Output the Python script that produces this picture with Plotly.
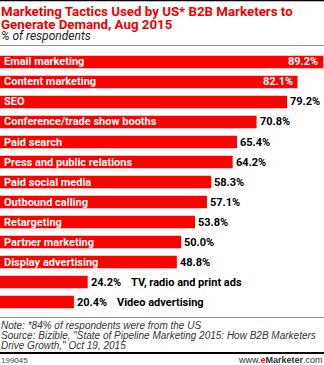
import plotly.graph_objects as go

categories = ["Email marketing", "Content marketing", "SEO", "Conference/trade show booths",
              "Paid search", "Press and public relations", "Paid social media", "Outbound calling",
              "Retargeting", "Partner marketing", "Display advertising",
              "TV, radio and print ads", "Video advertising"]
values = [89.2, 82.1, 79.2, 70.8, 65.4, 64.2, 58.3, 57.1, 53.8, 50.0, 48.8, 24.2, 20.4]
value_labels = ["89.2%", "82.1%", "79.2%", "70.8%", "65.4%", "64.2%", "58.3%", "57.1%",
                "53.8%", "50.0%", "48.8%", "24.2%", "20.4%"]
inside_value = [True, True] + [False] * 11
label_outside = [False] * 11 + [True, True]

W, H = 324, 365
BAR = "#ff0000"
TITLE_RED = "#ee0000"
FONT = "Roboto"

def py(p):
    return (H - p) / H

fig = go.Figure()
fig.add_trace(go.Bar(
    y=categories, x=values, orientation="h",
    marker=dict(color=BAR, line=dict(width=0)),
    hoverinfo="skip", showlegend=False,
))

ann = []
for cat, v, vl, ins, lo in zip(categories, values, value_labels, inside_value, label_outside):
    if ins:
        ann.append(dict(x=v, y=cat, xref="x", yref="y", text="<b>%s</b>" % vl, showarrow=False,
                        xanchor="right", yanchor="middle", xshift=-3,
                        font=dict(family=FONT, size=11, color="white")))
    else:
        ann.append(dict(x=v, y=cat, xref="x", yref="y", text="<b>%s</b>" % vl, showarrow=False,
                        xanchor="left", yanchor="middle", xshift=1,
                        font=dict(family=FONT, size=11, color="black")))
    if lo:
        ann.append(dict(x=v, y=cat, xref="x", yref="y", text="<b>%s</b>" % cat, showarrow=False,
                        xanchor="left", yanchor="middle", xshift=41,
                        font=dict(family=FONT, size=11, color="black")))
    else:
        ann.append(dict(x=0, y=cat, xref="x", yref="y", text="<b>%s</b>" % cat, showarrow=False,
                        xanchor="left", yanchor="middle", xshift=2,
                        font=dict(family=FONT, size=11, color="white")))

title_lines = ["Marketing Tactics Used by US* B2B Marketers to", "Generate Demand, Aug 2015"]
for i, t in enumerate(title_lines):
    ann.append(dict(x=0, y=py(11.8 + 12.4 * i), xref="paper", yref="paper", text="<b>%s</b>" % t,
                    showarrow=False, xanchor="left", yanchor="middle", xshift=-1,
                    font=dict(family=FONT, size=13.3, color=TITLE_RED)))
ann.append(dict(x=0, y=py(36), xref="paper", yref="paper", text="<i>% of respondents</i>",
                showarrow=False, xanchor="left", yanchor="middle", xshift=-1,
                font=dict(family=FONT, size=12, color="#222222")))

notes = ["Note: *84% of respondents were from the US",
         "Source: Bizible, \"State of Pipeline Marketing 2015: How B2B Marketers",
         "Drive Growth,\" Oct 19, 2015"]
for i, t in enumerate(notes):
    ann.append(dict(x=0, y=py(325 + 10 * i), xref="paper", yref="paper", text="<i>%s</i>" % t,
                    showarrow=False, xanchor="left", yanchor="middle", xshift=-1,
                    font=dict(family="Liberation Sans", size=10, color="#333333")))
ann.append(dict(x=0, y=py(360), xref="paper", yref="paper", text="199045",
                showarrow=False, xanchor="left", yanchor="middle", xshift=-1,
                font=dict(family="Liberation Sans", size=8, color="#444444")))
ann.append(dict(x=1, y=py(360), xref="paper", yref="paper",
                text="www.<b><span style='color:#ee0000'>e</span>Marketer</b>.com",
                showarrow=False, xanchor="right", yanchor="middle", xshift=1,
                font=dict(family="Liberation Sans", size=9, color="#333333")))

shapes = [
    dict(type="line", xref="paper", yref="paper", x0=0, x1=1, y0=py(0.5), y1=py(0.5),
         line=dict(color="black", width=1.5)),
    dict(type="line", xref="paper", yref="paper", x0=0, x1=1, y0=py(45.5), y1=py(45.5),
         line=dict(color="#999999", width=1)),
    dict(type="line", xref="paper", yref="paper", x0=0, x1=1, y0=py(317.5), y1=py(317.5),
         line=dict(color="#999999", width=1)),
    dict(type="line", xref="paper", yref="paper", x0=0, x1=1, y0=py(353), y1=py(353),
         line=dict(color="black", width=2)),
]

fig.update_layout(
    width=W, height=H, margin=dict(l=0, r=0, t=0, b=0),
    paper_bgcolor="white", plot_bgcolor="white",
    bargap=0.38,
    xaxis=dict(range=[0, 89.4], visible=False, domain=[0, 1]),
    yaxis=dict(autorange="reversed", visible=False, domain=[py(312), py(52)],
               categoryorder="array", categoryarray=categories),
    annotations=ann, shapes=shapes,
)

fig.write_html("out.html", config={"displayModeBar": False})
